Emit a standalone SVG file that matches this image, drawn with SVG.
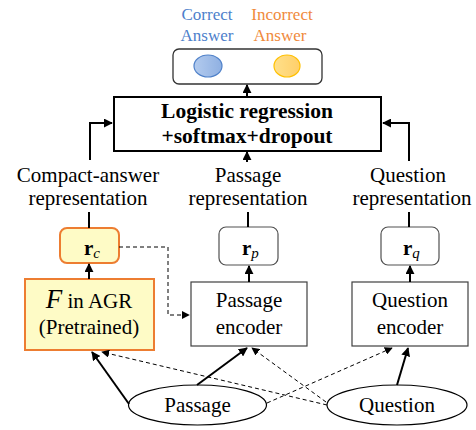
<svg xmlns="http://www.w3.org/2000/svg" width="476" height="430" viewBox="0 0 476 430" font-family="'Liberation Serif', 'Times New Roman', serif">
  <defs>
    <marker id="arrs" viewBox="0 0 10 10" refX="9" refY="5" markerWidth="9" markerHeight="9" orient="auto" markerUnits="userSpaceOnUse">
      <path d="M0,0 L10,5 L0,10 z" fill="#000"/>
    </marker>
    <marker id="arrd" viewBox="0 0 10 10" refX="9" refY="5" markerWidth="8" markerHeight="8" orient="auto" markerUnits="userSpaceOnUse">
      <path d="M0,0 L10,5 L0,10 z" fill="#000"/>
    </marker>
    <linearGradient id="gBlue" x1="0" y1="0" x2="1" y2="0">
      <stop offset="0" stop-color="#b3cbee"/>
      <stop offset="1" stop-color="#8fb0e2"/>
    </linearGradient>
    <linearGradient id="gOrange" x1="0" y1="0" x2="1" y2="0">
      <stop offset="0" stop-color="#ffe08a"/>
      <stop offset="1" stop-color="#ffcf6a"/>
    </linearGradient>
  </defs>
  <style>
    text { font-family: "Liberation Serif", "Times New Roman", serif; fill: #000; }
    .lbl { font-size: 21px; text-anchor: middle; }
    .top { font-size: 17px; text-anchor: middle; }
    .blue { fill: #4e7fcb; }
    .orange { fill: #f08a3c; }
    .bold { font-weight: bold; font-size: 21.5px; text-anchor: middle; }
    .vec { font-size: 21px; font-weight: bold; }
    .sub { font-weight: normal; font-style: italic; font-size: 15px; }
    .enc { fill: #fff; stroke: #404040; stroke-width: 1.2; }
    .rep { fill: #fff; stroke: #505050; stroke-width: 1.2; }
    .hl { fill: #fefbc6; stroke: #ed7d31; stroke-width: 2; }
    .solid { fill: none; stroke: #000; stroke-width: 2; }
    .dash { fill: none; stroke: #000; stroke-width: 1; stroke-dasharray: 4 3; }
    .ell { fill: #fff; stroke: #000; stroke-width: 1.2; }
  </style>

  <!-- output layer -->
  <g id="output">
    <text class="top blue" x="207" y="20">Correct</text>
    <text class="top blue" x="207" y="41">Answer</text>
    <text class="top orange" x="282" y="20">Incorrect</text>
    <text class="top orange" x="280" y="41">Answer</text>
    <rect x="173" y="49" width="149" height="35" rx="6" fill="#fff" stroke="#333" stroke-width="1.3"/>
    <ellipse cx="208" cy="66" rx="14" ry="11" fill="url(#gBlue)" stroke="#4f81c9" stroke-width="1.2"/>
    <ellipse cx="287" cy="66" rx="13" ry="11" fill="url(#gOrange)" stroke="#ffc000" stroke-width="1.2"/>
  </g>

  <g id="classifier">
    <rect x="114" y="97" width="267" height="54" fill="#fff" stroke="#000" stroke-width="2"/>
    <text class="bold" x="247" y="118">Logistic regression</text>
    <text class="bold" x="247" y="143">+softmax+dropout</text>
  </g>

  <!-- representation labels -->
  <g id="label-compact">
    <text class="lbl" x="88" y="182">Compact-answer</text>
    <text class="lbl" x="88" y="205">representation</text>
  </g>
  <g id="label-passage">
    <text class="lbl" x="248" y="182">Passage</text>
    <text class="lbl" x="248" y="205">representation</text>
  </g>
  <g id="label-question">
    <text class="lbl" x="408" y="182">Question</text>
    <text class="lbl" x="412" y="205">representation</text>
  </g>

  <!-- vectors -->
  <g id="rc">
    <rect class="hl" x="60" y="228" width="59" height="35" rx="7"/>
    <text class="vec" x="84" y="255">r<tspan class="sub" dy="3">c</tspan></text>
  </g>
  <g id="rp">
    <rect class="rep" x="219" y="227" width="59" height="38" rx="7"/>
    <text class="vec" x="242" y="255">r<tspan class="sub" dy="3">p</tspan></text>
  </g>
  <g id="rq">
    <rect class="rep" x="381" y="227" width="58" height="38" rx="7"/>
    <text class="vec" x="403" y="255">r<tspan class="sub" dy="3">q</tspan></text>
  </g>

  <!-- encoders -->
  <g id="agr">
    <rect class="hl" x="25" y="279" width="129" height="71"/>
    <text class="lbl" x="89" y="308"><tspan style="font-style:italic;font-size:27px">F</tspan> in AGR</text>
    <text class="lbl" x="89" y="334">(Pretrained)</text>
  </g>
  <g id="passage-encoder">
    <rect class="enc" x="191" y="282" width="116" height="64"/>
    <text class="lbl" x="249" y="307">Passage</text>
    <text class="lbl" x="249" y="334">encoder</text>
  </g>
  <g id="question-encoder">
    <rect class="enc" x="352" y="282" width="116" height="64"/>
    <text class="lbl" x="410" y="307">Question</text>
    <text class="lbl" x="410" y="334">encoder</text>
  </g>

  <!-- inputs -->
  <g id="passage">
    <ellipse class="ell" cx="197.5" cy="405" rx="69" ry="20"/>
    <text class="lbl" x="197.5" y="412">Passage</text>
  </g>
  <g id="question">
    <ellipse class="ell" cx="397" cy="405" rx="70" ry="20"/>
    <text class="lbl" x="397" y="412">Question</text>
  </g>

  <!-- connectors -->
  <g id="connectors">
    <line class="solid" x1="247" y1="97" x2="247" y2="85" marker-end="url(#arrs)"/>
    <polyline class="solid" points="90,160 90,123 112,123" marker-end="url(#arrs)"/>
    <polyline class="solid" points="409,161 409,123 383,123" marker-end="url(#arrs)"/>
    <line class="solid" x1="247" y1="162" x2="247" y2="152" marker-end="url(#arrs)"/>

    <line class="solid" x1="89" y1="212" x2="89" y2="228"/>
    <line class="solid" x1="248" y1="212" x2="248" y2="227"/>
    <line class="solid" x1="409" y1="212" x2="409" y2="227"/>

    <line class="solid" x1="89" y1="279" x2="89" y2="264" marker-end="url(#arrs)"/>
    <line class="solid" x1="249" y1="282" x2="249" y2="266" marker-end="url(#arrs)"/>
    <line class="solid" x1="410" y1="282" x2="410" y2="266" marker-end="url(#arrs)"/>

    <polyline class="dash" points="119,247 168,247 168,315 189,315" marker-end="url(#arrd)"/>

    <line class="solid" x1="129" y1="404" x2="92" y2="352" marker-end="url(#arrs)"/>
    <line class="solid" x1="197" y1="385" x2="247" y2="348" marker-end="url(#arrs)"/>
    <line class="solid" x1="397" y1="385" x2="408" y2="348" marker-end="url(#arrs)"/>

    <line class="dash" x1="327" y1="405" x2="102" y2="352" marker-end="url(#arrd)"/>
    <line class="dash" x1="326" y1="402" x2="252" y2="348" marker-end="url(#arrd)"/>
    <line class="dash" x1="267" y1="403" x2="392" y2="348" marker-end="url(#arrd)"/>
  </g>
</svg>
